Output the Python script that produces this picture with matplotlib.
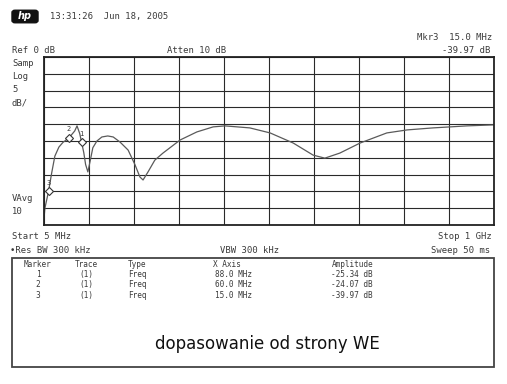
import matplotlib.pyplot as plt
from matplotlib.patches import Rectangle, FancyBboxPatch

# trace
freq_mhz = [5, 7, 15, 22, 29, 38, 47, 60, 73, 78, 84, 88, 93, 97, 102, 107, 113,
            122, 133, 146, 158, 173, 191, 206, 217, 224, 235, 250, 268, 306, 343,
            379, 405, 460, 505, 556, 600, 626, 659, 704, 763, 808, 865, 903, 940, 1000]
level_db = [-48, -45.0, -40.0, -34.5, -29.5, -26.8, -25.4, -24.1, -22.0, -20.5, -22.8,
            -25.3, -28.5, -32.0, -34.2, -31.0, -27.0, -25.0, -23.8, -23.5, -23.8, -25.3,
            -27.7, -32.0, -35.7, -36.6, -34.2, -30.7, -28.6, -24.7, -22.3, -20.8, -20.5,
            -21.1, -22.6, -25.6, -29.2, -30.1, -28.6, -25.6, -22.6, -21.7, -21.1, -20.8,
            -20.5, -20.2]

marker_ids = ["1", "2", "3"]
marker_freq = [88.0, 60.0, 15.0]
marker_amp = [-25.34, -24.07, -39.97]

ink = "#3a3a3a"
mono = "DejaVu Sans Mono"
fs = 6.4
tfs = 5.6

fig = plt.figure(figsize=(5.07, 3.84), dpi=100)
W, H = 507, 384

def px(x, y):
    return x / W, 1 - y / H

def label(x, y, s, size=fs, ha="left"):
    # y is the visual middle of the text line, in pixels from the top
    fig.text(*px(x, y + size * 0.47), s, family=mono, fontsize=size, color=ink,
             ha=ha, va="baseline")

ax = fig.add_axes([44 / W, 1 - 225 / H, 450 / W, 168 / H])
ax.set_xlim(5, 1000)
ax.set_ylim(-50, 0)
ax.set_xticks([5 + 99.5 * i for i in range(11)])
ax.set_yticks(range(-50, 1, 5))
ax.tick_params(length=0, labelbottom=False, labelleft=False)
ax.grid(True, color="#2a2a2a", linewidth=0.8)
for s in ax.spines.values():
    s.set_color("#222222")
    s.set_linewidth(1.3)

ax.plot(freq_mhz, level_db, color="#5a5a5a", linewidth=0.9)
ax.plot(marker_freq, marker_amp, linestyle="none", marker="D", markersize=4.5,
        markerfacecolor="white", markeredgecolor="#333333", markeredgewidth=0.8)
for m, f, a in zip(marker_ids, marker_freq, marker_amp):
    ax.annotate(m, (f, a), xytext=(0, 4), textcoords="offset points",
                ha="center", va="bottom", fontsize=5, family=mono, color=ink)

# header
fig.patches.append(FancyBboxPatch(px(13, 22), 24 / W, 11 / H,
                                  boxstyle="round,pad=0.002,rounding_size=0.006",
                                  transform=fig.transFigure, facecolor="#111111",
                                  edgecolor="#111111"))
fig.text(*px(25, 16), "hp", color="white", fontsize=7, fontweight="bold",
         style="italic", ha="center", va="center")
label(50, 16, "13:31:26  Jun 18, 2005")
label(492, 37, "Mkr3  15.0 MHz", ha="right")
label(490, 50, "-39.97 dB", ha="right")
label(12, 50, "Ref 0 dB")
label(167, 50, "Atten 10 dB")

for txt, y in [("Samp", 63), ("Log", 76), ("5", 89), ("dB/", 102),
               ("VAvg", 198), ("10", 211)]:
    label(12, y, txt)

label(12, 236, "Start 5 MHz")
label(492, 236, "Stop 1 GHz", ha="right")
label(10, 250, "\u2022Res BW 300 kHz")
label(220, 250, "VBW 300 kHz")
label(490, 250, "Sweep 50 ms", ha="right")

# marker table
fig.patches.append(Rectangle(px(12, 367), 482 / W, 109 / H, transform=fig.transFigure,
                             facecolor="none", edgecolor="#444444", linewidth=1.3))
label(38, 264, "Marker", tfs, "center")
label(86, 264, "Trace", tfs, "center")
label(128, 264, "Type", tfs)
label(227, 264, "X Axis", tfs, "center")
label(353, 264, "Amplitude", tfs, "center")
for i, (m, f, a) in enumerate(zip(marker_ids, marker_freq, marker_amp)):
    y = 274 + 10.5 * i
    label(38, y, m, tfs, "center")
    label(86, y, "(1)", tfs, "center")
    label(128, y, "Freq", tfs)
    label(252, y, f"{f:.1f} MHz", tfs, "right")
    label(373, y, f"{a:.2f} dB", tfs, "right")

fig.text(*px(267, 342), "dopasowanie od strony WE", fontsize=12, color="#111111",
         ha="center", va="center_baseline")

fig.savefig("out.png", dpi=100)
